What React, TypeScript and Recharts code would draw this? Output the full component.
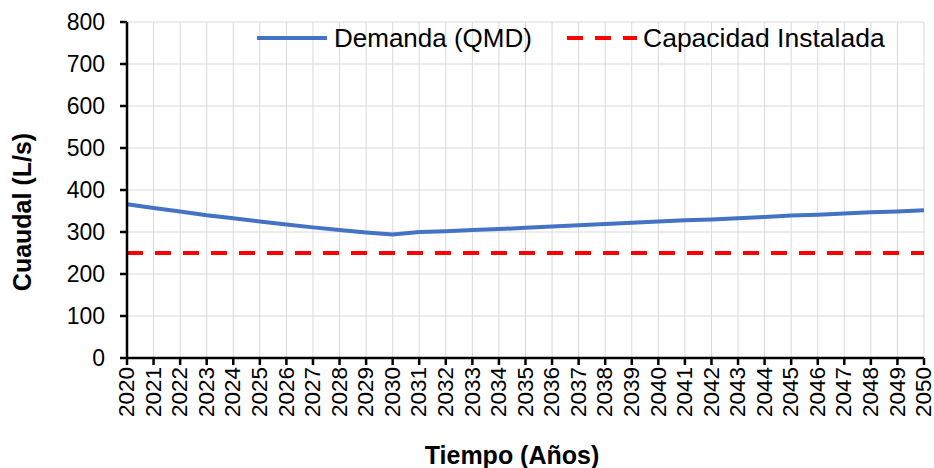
import React from 'react';
import { LineChart, Line, XAxis, YAxis, CartesianGrid, Label } from 'recharts';

const years = [
  '2020', '2021', '2022', '2023', '2024', '2025', '2026', '2027', '2028', '2029', '2030',
  '2031', '2032', '2033', '2034', '2035', '2036', '2037', '2038', '2039', '2040',
  '2041', '2042', '2043', '2044', '2045', '2046', '2047', '2048', '2049', '2050',
];

const demanda = [
  366, 357, 349, 340, 333, 325, 318, 311, 305, 299, 294,
  300, 302, 304.5, 307, 310, 313, 316, 319, 322, 325,
  328, 330, 333, 336, 339, 341, 344, 347, 349, 352,
];

const capacidad = [
  250, 250, 250, 250, 250, 250, 250, 250, 250, 250, 250,
  250, 250, 250, 250, 250, 250, 250, 250, 250, 250,
  250, 250, 250, 250, 250, 250, 250, 250, 250, 250,
];

const yTicks = [0, 100, 200, 300, 400, 500, 600, 700, 800];

const seriesNames = ['Demanda (QMD)', 'Capacidad Instalada'];
const xTitle = 'Tiempo (Años)';
const yTitle = 'Cuaudal (L/s)';

const data = years.map((y, i) => ({ year: y, demanda: demanda[i], capacidad: capacidad[i] }));

const FONT = '"Liberation Sans", Arial, sans-serif';
const BLUE = '#4472C4';
const RED = '#FF0000';

const XTick = (props: any) => {
  const { x, y, payload } = props;
  return (
    <text
      x={x}
      y={y}
      transform={`rotate(-90 ${x} ${y})`}
      textAnchor="end"
      dy="0.32em"
      fontSize={22.5}
      fontFamily={FONT}
      fill="#000"
    >
      {payload.value}
    </text>
  );
};

export default function App() {
  return (
    <div style={{ position: 'absolute', left: 0, top: 0, width: 934, height: 468, background: '#fff' }}>
      <LineChart
        width={934}
        height={468}
        data={data}
        margin={{ top: 22, right: 10, left: 0, bottom: 0 }}
      >
        <CartesianGrid stroke="#d9d9d9" strokeWidth={1} />
        <XAxis
          dataKey="year"
          interval={0}
          height={110}
          tick={<XTick />}
          tickSize={7}
          tickMargin={2}
          axisLine={{ stroke: '#000', strokeWidth: 2.5 }}
          tickLine={{ stroke: '#000', strokeWidth: 2.5 }}
        >
          <Label
            content={() => (
              <text x={512} y={464} textAnchor="middle" fontSize={25} fontWeight="bold" fontFamily={FONT} fill="#000">
                {xTitle}
              </text>
            )}
          />
        </XAxis>
        <YAxis
          width={127}
          domain={[0, 800]}
          ticks={yTicks}
          interval={0}
          tickSize={7}
          tickMargin={15}
          tick={{ fontSize: 23, fontFamily: FONT, fill: '#000' }}
          axisLine={{ stroke: '#000', strokeWidth: 2.5 }}
          tickLine={{ stroke: '#000', strokeWidth: 2.5 }}
        >
          <Label
            content={() => (
              <text
                x={22}
                y={212}
                transform="rotate(-90 22 212)"
                textAnchor="middle"
                dy="0.35em"
                fontSize={25}
                fontWeight="bold"
                fontFamily={FONT}
                fill="#000"
              >
                {yTitle}
              </text>
            )}
          />
        </YAxis>
        <Line
          type="linear"
          dataKey="capacidad"
          name={seriesNames[1]}
          stroke={RED}
          strokeWidth={4}
          strokeDasharray="16 12"
          dot={false}
          isAnimationActive={false}
        />
        <Line
          type="linear"
          dataKey="demanda"
          name={seriesNames[0]}
          stroke={BLUE}
          strokeWidth={4}
          dot={false}
          isAnimationActive={false}
        />
      </LineChart>
      <svg
        width={934}
        height={468}
        style={{ position: 'absolute', left: 0, top: 0, pointerEvents: 'none' }}
      >
        <line x1={257} y1={38} x2={327} y2={38} stroke={BLUE} strokeWidth={4} />
        <text x={334} y={47} fontSize={26} fontFamily={FONT} fill="#000">
          {seriesNames[0]}
        </text>
        <line x1={567} y1={38} x2={637} y2={38} stroke={RED} strokeWidth={4} strokeDasharray="16 12" />
        <text x={643} y={47} fontSize={26.5} fontFamily={FONT} fill="#000">
          {seriesNames[1]}
        </text>
      </svg>
    </div>
  );
}
